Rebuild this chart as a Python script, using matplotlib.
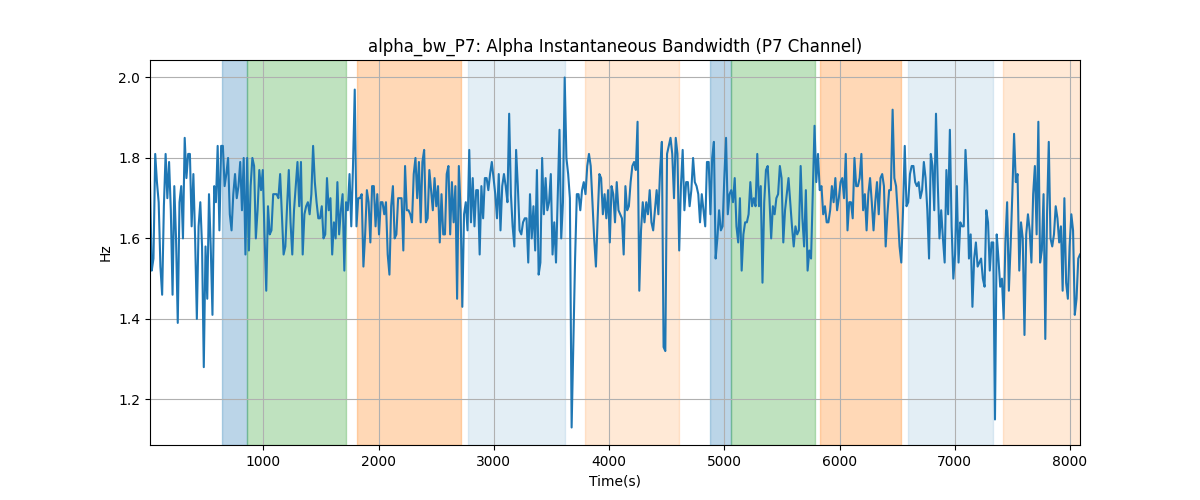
import matplotlib.pyplot as plt
import numpy as np

# time range of the recording (s)
t_start, t_end = 15, 8087

# alpha bandwidth values read left to right
bw = [
    1.74, 1.52, 1.55, 1.81, 1.74, 1.69, 1.53, 1.46, 1.68, 1.81, 1.70, 1.79, 1.67, 1.46, 1.73, 1.60,
    1.39, 1.69, 1.73, 1.60, 1.85, 1.75, 1.81, 1.81, 1.63, 1.76, 1.60, 1.40, 1.63, 1.69, 1.58, 1.28,
    1.58, 1.45, 1.71, 1.58, 1.41, 1.73, 1.69, 1.83, 1.62, 1.83, 1.83, 1.73, 1.76, 1.80, 1.66, 1.62,
    1.71, 1.76, 1.70, 1.73, 1.79, 1.67, 1.80, 1.56, 1.80, 1.57, 1.73, 1.80, 1.78, 1.60, 1.67, 1.77,
    1.72, 1.77,
    # 1000 - 2000
    1.61, 1.47, 1.68, 1.61, 1.62, 1.71, 1.71, 1.71, 1.70, 1.76, 1.66, 1.56, 1.58, 1.68, 1.77, 1.64,
    1.56, 1.67, 1.73, 1.79, 1.68, 1.79, 1.56, 1.66, 1.68, 1.69, 1.66, 1.71, 1.83, 1.74, 1.69, 1.65,
    1.65, 1.68, 1.60, 1.61, 1.75, 1.67, 1.70, 1.56, 1.64, 1.60, 1.74, 1.61, 1.67, 1.71, 1.52, 1.69,
    1.67, 1.76, 1.63, 1.78, 1.97, 1.63, 1.70, 1.70, 1.71, 1.53, 1.61, 1.72, 1.69, 1.59, 1.73, 1.73,
    1.63,
    # 2000 - 3000
    1.71, 1.61, 1.69, 1.69, 1.66, 1.69, 1.56, 1.51, 1.68, 1.73, 1.60, 1.61, 1.70, 1.70, 1.70, 1.57,
    1.78, 1.67, 1.67, 1.66, 1.64, 1.76, 1.80, 1.70, 1.79, 1.64, 1.79, 1.82, 1.64, 1.65, 1.77, 1.72,
    1.67, 1.75, 1.68, 1.73, 1.59, 1.71, 1.61, 1.61, 1.76, 1.78, 1.61, 1.74, 1.64, 1.73, 1.45, 1.78,
    1.67, 1.43, 1.66, 1.69, 1.62, 1.82, 1.64, 1.75, 1.63, 1.72, 1.72, 1.56, 1.73, 1.65, 1.75, 1.75,
    1.72, 1.76, 1.79,
    # 3000 - 4000
    1.75, 1.71, 1.65, 1.76, 1.62, 1.73, 1.76, 1.73, 1.69, 1.91, 1.71, 1.63, 1.58, 1.82, 1.73, 1.62,
    1.61, 1.64, 1.65, 1.65, 1.54, 1.71, 1.60, 1.68, 1.57, 1.77, 1.51, 1.54, 1.80, 1.66, 1.75, 1.67,
    1.69, 1.76, 1.56, 1.64, 1.54, 1.71, 1.87, 1.60, 1.69, 2.00, 1.80, 1.76, 1.70, 1.13, 1.34, 1.55,
    1.71, 1.71, 1.67, 1.72, 1.74, 1.71, 1.78, 1.81, 1.78, 1.69, 1.60, 1.53, 1.65, 1.76, 1.75, 1.66,
    1.71, 1.65, 1.72, 1.59,
    # 4000 - 5000
    1.73, 1.71, 1.64, 1.74, 1.67, 1.66, 1.65, 1.56, 1.73, 1.67, 1.68, 1.74, 1.78, 1.79, 1.77, 1.89,
    1.47, 1.62, 1.69, 1.64, 1.69, 1.66, 1.72, 1.64, 1.62, 1.67, 1.72, 1.66, 1.77, 1.84, 1.33, 1.32,
    1.81, 1.83, 1.85, 1.81, 1.70, 1.85, 1.81, 1.57, 1.73, 1.82, 1.67, 1.74, 1.74, 1.68, 1.72, 1.80,
    1.74, 1.73, 1.71, 1.64, 1.71, 1.67, 1.63, 1.79, 1.79, 1.66, 1.80, 1.84, 1.55, 1.60, 1.67, 1.62,
    1.63, 1.75, 1.85,
    # 5000 - 6000
    1.66, 1.71, 1.72, 1.69, 1.75, 1.63, 1.59, 1.70, 1.52, 1.61, 1.64, 1.64, 1.66, 1.74, 1.68, 1.70,
    1.68, 1.81, 1.68, 1.73, 1.49, 1.69, 1.77, 1.78, 1.70, 1.60, 1.68, 1.66, 1.70, 1.71, 1.78, 1.75,
    1.59, 1.67, 1.71, 1.75, 1.69, 1.63, 1.58, 1.63, 1.61, 1.62, 1.78, 1.65, 1.58, 1.72, 1.52, 1.57,
    1.55, 1.72, 1.88, 1.74, 1.81, 1.72, 1.73, 1.66, 1.68, 1.64, 1.64, 1.67, 1.73, 1.69, 1.75, 1.67,
    1.70, 1.74, 1.75,
    # 6000 - 7000
    1.70, 1.81, 1.62, 1.69, 1.69, 1.65, 1.80, 1.73, 1.73, 1.75, 1.81, 1.67, 1.71, 1.62, 1.71, 1.75,
    1.69, 1.62, 1.69, 1.74, 1.66, 1.75, 1.76, 1.73, 1.58, 1.66, 1.72, 1.72, 1.92, 1.75, 1.73, 1.66,
    1.58, 1.54, 1.67, 1.83, 1.68, 1.69, 1.76, 1.78, 1.78, 1.74, 1.73, 1.74, 1.70, 1.72, 1.79, 1.75,
    1.67, 1.55, 1.81, 1.78, 1.67, 1.91, 1.74, 1.60, 1.67, 1.60, 1.54, 1.77, 1.66, 1.87, 1.63, 1.50,
    1.56, 1.73, 1.54,
    # 7000 - end
    1.64, 1.63, 1.63, 1.82, 1.73, 1.55, 1.61, 1.43, 1.55, 1.59, 1.53, 1.54, 1.55, 1.50, 1.48, 1.67,
    1.64, 1.52, 1.59, 1.59, 1.15, 1.61, 1.55, 1.48, 1.50, 1.40, 1.59, 1.69, 1.47, 1.58, 1.71, 1.86,
    1.74, 1.76, 1.52, 1.64, 1.60, 1.36, 1.61, 1.66, 1.62, 1.54, 1.71, 1.78, 1.61, 1.89, 1.54, 1.57,
    1.71, 1.35, 1.66, 1.84, 1.60, 1.58, 1.61, 1.68, 1.65, 1.59, 1.63, 1.47, 1.70, 1.49, 1.45, 1.58,
    1.66, 1.62, 1.41, 1.45, 1.55, 1.56,
]

# shaded segments: (start, end, colour, alpha)
seg_start = [640, 857, 1812, 2775, 3791, 4879, 5061, 5831, 6595, 7420]
seg_end = [857, 1714, 2715, 3615, 4604, 5061, 5788, 6531, 7330, 8087]
seg_color = ["C0", "C2", "C1", "C0", "C1", "C0", "C2", "C1", "C0", "C1"]
seg_alpha = [0.3, 0.3, 0.3, 0.12, 0.17, 0.3, 0.3, 0.3, 0.12, 0.17]

t = np.linspace(t_start, t_end, len(bw))

fig, ax = plt.subplots(figsize=(12, 5), dpi=100)

for s, e, c, a in zip(seg_start, seg_end, seg_color, seg_alpha):
    ax.axvspan(s, e, color=c, alpha=a)

ax.plot(t, bw, color="C0", linewidth=1.5)

ax.set_xlim(t_start, t_end)
ax.set_title("alpha_bw_P7: Alpha Instantaneous Bandwidth (P7 Channel)")
ax.set_xlabel("Time(s)")
ax.set_ylabel("Hz")
ax.grid(True)

plt.savefig("out.png")
